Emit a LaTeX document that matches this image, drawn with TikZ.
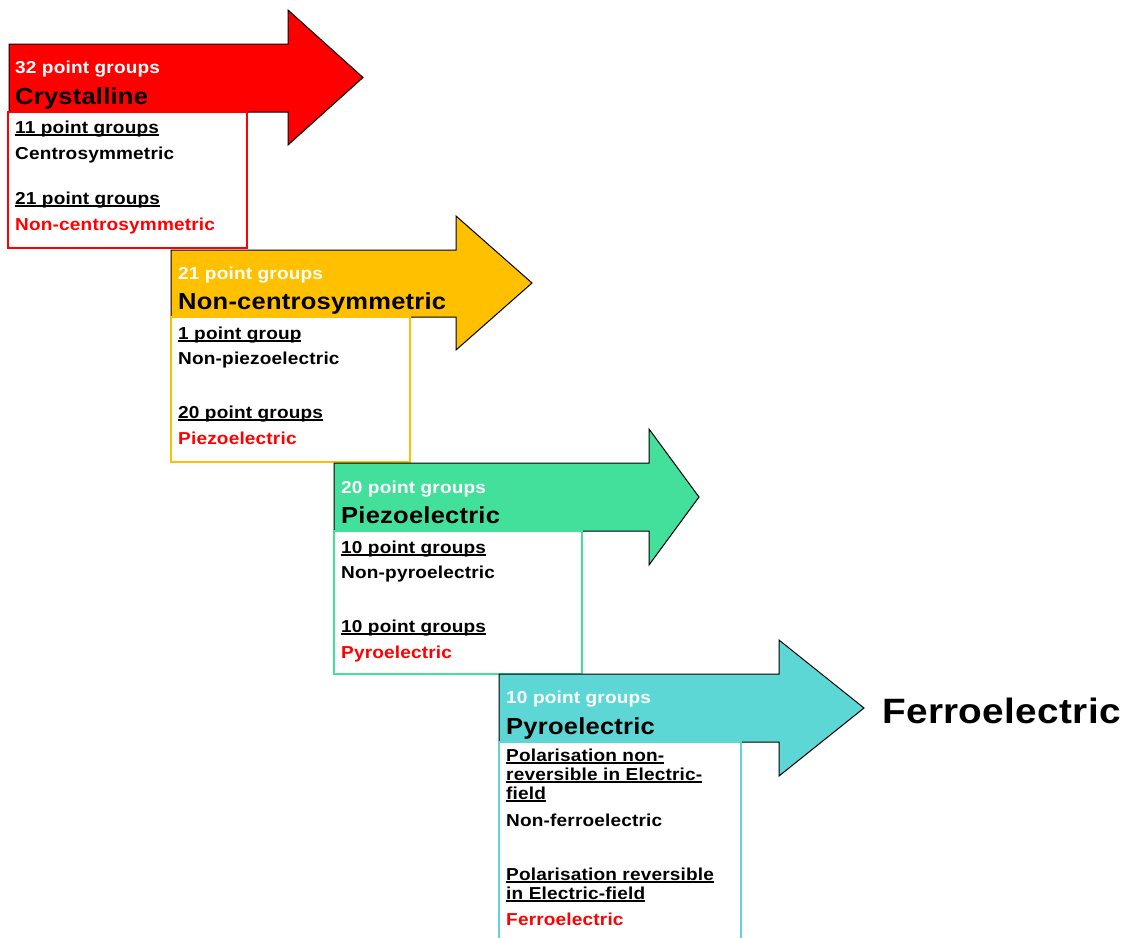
\documentclass[tikz,border=0pt]{standalone}
\usepackage{fontspec}
\setmainfont{Liberation Sans}
\newfontfamily\dfont{Liberation Sans}[FakeStretch=1.1, LetterSpace=1]
\definecolor{cRed}{HTML}{FF0000}
\definecolor{cOrange}{HTML}{FFC000}
\definecolor{cGreen}{HTML}{43E09C}
\definecolor{cTeal}{HTML}{5CD7D5}
\newcommand\ulx[1]{\setbox0\hbox{#1}\rlap{\rule[-2.6pt]{\wd0}{1.6pt}}\box0}
\tikzset{
  txt/.style={anchor=base west, inner sep=0pt, font=\dfont\bfseries\fontsize{17.3}{19}\selectfont},
  wtxt/.style={txt, text=white},
  rtxt/.style={txt, text=cRed},
  bigtxt/.style={anchor=base west, inner sep=0pt, font=\dfont\bfseries\fontsize{23.2}{26}\selectfont},
  arrowshape/.style={draw=black, line width=1pt, line join=miter},
  boxframe/.style={line width=1.2pt, fill=white}
}
\begin{document}
\begin{tikzpicture}[x=1pt,y=-1pt]
\useasboundingbox (0,0) rectangle (1132,937);
% ---------- Stage 1 ----------
\draw[arrowshape, fill=cRed] (9,44) -- (288,44) -- (288,10) -- (363,77.5) -- (288,145) -- (288,112) -- (9,112) -- cycle;
\draw[boxframe, draw=cRed] (8,112) rectangle (247,248);
\node[wtxt] (a1) at (15,73) {32 point groups};
\node[bigtxt] (a1b) at (15,104) {Crystalline};
\node[txt] (b1a) at (15,133) {\ulx{11 point groups}};
\node[txt] (b1b) at (15,159) {Centrosymmetric};
\node[txt] (b1c) at (15,204) {\ulx{21 point groups}};
\node[rtxt] (b1d) at (15,230) {Non-centrosymmetric};
% ---------- Stage 2 ----------
\draw[arrowshape, fill=cOrange] (171,250) -- (456,250) -- (456,216) -- (532,283) -- (456,350) -- (456,317) -- (171,317) -- cycle;
\draw[boxframe, draw=cOrange] (171,317) rectangle (410,462);
\node[wtxt] (a2) at (178,279) {21 point groups};
\node[bigtxt] (a2b) at (178,309) {Non-centrosymmetric};
\node[txt] (b2a) at (178,339) {\ulx{1 point group}};
\node[txt] (b2b) at (178,364) {Non-piezoelectric};
\node[txt] (b2c) at (178,418) {\ulx{20 point groups}};
\node[rtxt] (b2d) at (178,444) {Piezoelectric};
% ---------- Stage 3 ----------
\draw[arrowshape, fill=cGreen] (334,463) -- (649,463) -- (649,429) -- (699,497) -- (649,565) -- (649,531) -- (334,531) -- cycle;
\draw[boxframe, draw=cGreen] (334,531) rectangle (582,674);
\node[wtxt] (a3) at (341,493) {20 point groups};
\node[bigtxt] (a3b) at (341,523) {Piezoelectric};
\node[txt] (b3a) at (341,553) {\ulx{10 point groups}};
\node[txt] (b3b) at (341,578) {Non-pyroelectric};
\node[txt] (b3c) at (341,632) {\ulx{10 point groups}};
\node[rtxt] (b3d) at (341,658) {Pyroelectric};
% ---------- Stage 4 ----------
\draw[arrowshape, fill=cTeal] (499,674) -- (779,674) -- (779,640) -- (864,708) -- (779,776) -- (779,742) -- (499,742) -- cycle;
\fill[white] (499,742) rectangle (741,940);
\draw[line width=1.2pt, draw=cTeal] (499,940) -- (499,742) -- (741,742) -- (741,940);
\node[wtxt] (a4) at (506,703) {10 point groups};
\node[bigtxt] (a4b) at (506,734) {Pyroelectric};
\node[txt] (b4a) at (506,761) {\ulx{Polarisation non-}};
\node[txt] (b4b) at (506,780) {\ulx{reversible in Electric-}};
\node[txt] (b4c) at (506,799) {\ulx{field}};
\node[txt] (b4d) at (506,826) {Non-ferroelectric};
\node[txt] (b4e) at (506,880) {\ulx{Polarisation reversible}};
\node[txt] (b4f) at (506,899) {\ulx{in Electric-field}};
\node[rtxt] (b4g) at (506,925) {Ferroelectric};
% ---------- Result ----------
\node[anchor=base west, inner sep=0pt, font=\dfont\bfseries\fontsize{35.2}{40}\selectfont] (fe) at (882,723) {Ferroelectric};
\end{tikzpicture}
\end{document}
